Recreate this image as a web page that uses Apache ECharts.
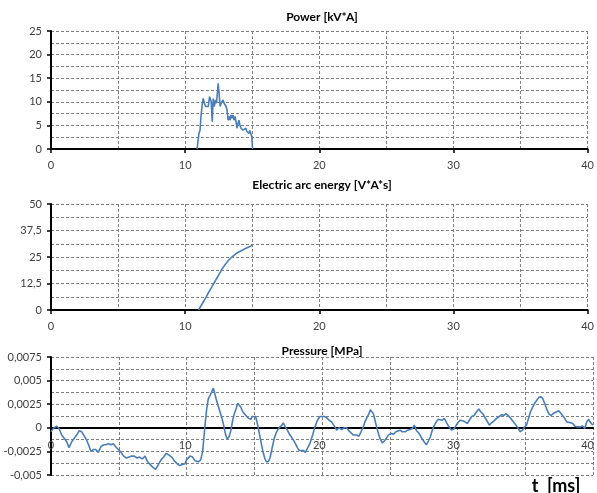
<!DOCTYPE html>
<html>
<head>
<meta charset="utf-8">
<script src="https://cdn.jsdelivr.net/npm/echarts@6/dist/echarts.min.js"></script>
<style>html,body{margin:0;padding:0;background:#fff}#c{width:597px;height:493px}</style>
</head>
<body>
<div id="c"></div>
<script>
// ---- data (t in ms) ----
const panelTitles = ['Power [kV*A]', 'Electric arc energy [V*A*s]', 'Pressure [MPa]'];
const xTitle = 't  [ms]';

const powerT = [10.89,10.94,11.03,11.11,11.18,11.28,11.35,11.43,11.53,11.62,11.72,11.82,11.87,11.94,12.02,12.09,12.17,12.26,12.34,12.41,12.46,12.53,12.61,12.68,12.76,12.83,12.90,12.98,13.05,13.12,13.20,13.27,13.35,13.42,13.49,13.57,13.64,13.72,13.79,13.86,13.94,14.01,14.08,14.16,14.23,14.31,14.38,14.45,14.53,14.60,14.67,14.75,14.82,14.90,14.97,15.02];
const powerV = [0,1.2,3.3,4,6.9,9.7,10.7,9.7,9,9.4,9,11.1,11.4,10,5.8,10.7,9,10.4,9.7,12.1,13.9,11.8,9,9.7,9.4,10.4,9.7,10,9,8.3,6.1,6.9,6.1,7.2,6.5,7.2,6.1,6.9,5.8,4.4,5.4,6.1,5.1,4.4,4.7,4,4.4,3.7,4.4,3.7,4,3.3,3.9,3.5,2.6,0];

const energyT = [11.0,11.25,11.5,11.75,12.0,12.25,12.5,12.75,13.0,13.25,13.5,13.75,14.0,14.25,14.5,14.75,15.0];
const energyV = [0,2.7,5.4,8.3,11,13.8,16.6,19.3,21.6,23.6,25.1,26.4,27.4,28.2,29.0,29.7,30.5];

const pressT = [0.00,0.17,0.42,0.59,0.79,0.98,1.16,1.33,1.53,1.72,1.89,2.09,2.26,2.46,2.63,2.80,2.95,3.12,3.30,3.49,3.69,3.86,4.03,4.23,4.43,4.60,4.77,4.97,5.17,5.36,5.56,5.76,5.95,6.15,6.35,6.54,6.74,6.94,7.13,7.33,7.53,7.72,7.92,8.12,8.31,8.51,8.71,8.91,9.10,9.30,9.50,9.69,9.89,
10.00,10.26,10.45,10.63,10.87,11.05,11.19,11.29,11.39,11.49,11.61,11.73,11.86,11.98,12.08,12.18,12.32,12.47,12.62,12.77,12.89,13.01,13.16,13.28,13.41,13.53,13.65,13.78,13.88,14.00,14.15,14.29,14.44,14.59,14.74,14.86,14.98,15.10,15.23,15.35,15.47,15.62,15.77,15.89,16.04,16.16,16.31,16.46,16.60,16.75,16.90,17.05,17.14,17.29,17.44,17.64,17.84,18.03,18.18,18.33,18.47,18.62,18.77,18.91,19.11,19.31,19.48,19.66,19.85,
20.17,20.34,20.52,20.71,20.91,21.08,21.25,21.45,21.65,21.82,21.94,22.14,22.31,22.44,22.58,22.73,22.88,23.05,23.17,23.32,23.47,23.57,23.67,23.79,23.91,24.03,24.16,24.30,24.45,24.60,24.75,24.90,25.09,25.29,25.44,25.58,25.76,25.93,26.13,26.32,26.49,26.67,26.81,26.96,27.16,27.36,27.55,27.70,27.85,28.00,28.14,28.29,28.44,28.59,28.73,28.88,29.03,29.20,29.37,29.57,29.77,
29.99,30.18,30.38,30.55,30.73,30.87,31.05,31.22,31.41,31.57,31.71,31.86,32.00,32.15,32.35,32.52,32.69,32.89,33.09,33.26,33.43,33.58,33.75,33.92,34.12,34.32,34.49,34.61,34.71,34.80,34.95,35.10,35.24,35.39,35.55,35.69,35.84,35.99,36.14,36.29,36.43,36.58,36.73,36.88,37.02,37.17,37.32,37.47,37.61,37.76,37.91,38.06,38.20,38.35,38.50,38.65,38.80,38.94,39.09,39.24,39.39,39.54,39.69,39.78,39.98];
const pressV = [-0.00042,-0.00007,0.00018,-0.00007,-0.00077,-0.0011,-0.00148,-0.0021,-0.00148,-0.0011,-0.00077,-0.0003,-0.00042,-0.00088,-0.0013,-0.0019,-0.0025,-0.0023,-0.0023,-0.0026,-0.002,-0.0018,-0.0018,-0.0017,-0.0018,-0.0017,-0.002,-0.0023,-0.0026,-0.003,-0.0032,-0.0031,-0.003,-0.003,-0.0032,-0.0031,-0.0033,-0.003,-0.0036,-0.0039,-0.0042,-0.0044,-0.0039,-0.0034,-0.0031,-0.0027,-0.0029,-0.0031,-0.0035,-0.0038,-0.004,-0.0039,-0.0038,
-0.0034,-0.003,-0.0031,-0.0035,-0.0036,-0.0034,-0.0025,-0.00095,0.00063,0.002,0.0031,0.0034,0.0036,0.0042,0.0043,0.0031,0.0024,0.0017,0.001,0.0001,-0.00077,-0.0012,-0.0009,-0.00025,0.0008,0.0015,0.002,0.0026,0.0027,0.0022,0.0017,0.0015,0.0012,0.001,0.0009,0.0012,0.0014,0.0012,0.00046,-0.00042,-0.0013,-0.0024,-0.0032,-0.0036,-0.0036,-0.0032,-0.0022,-0.0012,-0.0006,-0.00018,0.0001,0.00028,0.00053,0.0001,-0.00025,-0.00077,-0.0012,-0.00165,-0.0021,-0.0024,-0.0022,-0.0024,-0.0026,-0.0024,-0.00165,-0.00077,0.0001,0.0008,0.0012,
0.0012,0.0011,0.0008,0.00063,0.00018,-0.00025,0,-0.00018,0,0,-0.00025,-0.00053,-0.00077,-0.00095,-0.00077,-0.0009,-0.00042,0.0001,0.00063,0.0011,0.0015,0.0019,0.0019,0.0015,0.0008,0.0001,-0.0006,-0.0012,-0.0016,-0.0014,-0.0011,-0.00077,-0.0006,-0.00067,-0.00042,-0.00053,-0.00025,-0.00042,-0.00042,-0.00025,-0.00018,-0.00007,0.00028,-0.00025,-0.0006,-0.0011,-0.0015,-0.0018,-0.0014,-0.00095,-0.00025,0.00028,0.00063,0.0009,0.0011,0.0008,0.001,0.00053,0.0001,-0.00025,-0.00007,
0.00046,0.0008,0.00074,0.00063,0.00046,0.0008,0.0012,0.0013,0.0017,0.002,0.0017,0.0015,0.0013,0.0008,0.00028,0.00053,0.00074,0.001,0.0012,0.0014,0.0013,0.0015,0.0013,0.001,0.00063,0.00028,-0.00007,-0.00042,-0.0006,-0.00025,0.0001,0.00028,0.001,0.0017,0.0022,0.0026,0.0029,0.0032,0.0033,0.0031,0.0026,0.002,0.0015,0.0013,0.0015,0.0016,0.0017,0.0018,0.0017,0.0013,0.001,0.00063,0.00046,0.00053,0.00046,0.00018,0.0001,0.00028,0.0001,0.00018,-0.00007,0.00063,0.0009,0.00063,0.00028];

// axis ranges
const xRange = {min: 0, max: 40, interval: 10};
const yRanges = [
  {min: 0, max: 25, interval: 5},
  {min: 0, max: 50, interval: 12.5},
  {min: -0.005, max: 0.0075, interval: 0.0025}
];

// ---- chart ----
const FONT = 'Lato, "Open Sans", sans-serif';
const dash = {type: [3, 2], color: '#808080', width: 1};
const grids = [
  {left: 51, right: 4, top: 31, height: 118},
  {left: 51, right: 4, top: 204, height: 106},
  {left: 51, right: 4, top: 357, height: 118}
];
// label-only grid for the pressure panel: its bottom edge sits on the y = 0 line
const pr = yRanges[2];
grids.push({left: 51, right: 4, top: 357, height: 118 * (pr.max - 0) / (pr.max - pr.min)});

const fmt = v => String(+(+v).toFixed(6)).replace('.', ',');
const lbl = {color: '#404040', fontSize: 11, fontFamily: FONT, formatter: fmt};

const xAxes = [0, 1, 2].map(i => ({
  type: 'value', gridIndex: i, min: xRange.min, max: xRange.max, interval: xRange.interval,
  axisLine: {onZero: true, lineStyle: {color: '#000', width: 2}},
  axisTick: {show: i < 2, length: 4, lineStyle: {color: '#000', width: 1.5}},
  axisLabel: Object.assign({show: i < 2, margin: 11}, lbl),
  splitLine: {show: true, lineStyle: dash},
  minorTick: {show: false, splitNumber: 2},
  minorSplitLine: {show: true, lineStyle: dash}
}));
xAxes.push({
  type: 'value', gridIndex: 3, min: xRange.min, max: xRange.max, interval: xRange.interval,
  axisLine: {show: false}, axisTick: {show: false}, splitLine: {show: false},
  axisLabel: Object.assign({margin: 12}, lbl)
});
const yAxes = [0, 1, 2].map(i => ({
  type: 'value', gridIndex: i, min: yRanges[i].min, max: yRanges[i].max, interval: yRanges[i].interval,
  axisLine: {show: true, onZero: false, lineStyle: {color: '#000', width: 2}},
  axisTick: {show: true, length: 4, lineStyle: {color: '#000', width: 1.5}},
  axisLabel: Object.assign({margin: 9}, lbl),
  splitLine: {show: true, lineStyle: dash},
  minorTick: {show: false, splitNumber: 2},
  minorSplitLine: {show: true, lineStyle: dash}
}));
yAxes.push({
  type: 'value', gridIndex: 3, min: 0, max: pr.max,
  axisLine: {show: false}, axisTick: {show: false}, axisLabel: {show: false}, splitLine: {show: false}
});

const zip = (a, b) => a.map((t, k) => [t, b[k]]);
const lineStyle = {color: '#4a7ebb', width: 1.6};
const series = [
  {type: 'line', xAxisIndex: 0, yAxisIndex: 0, data: zip(powerT, powerV), showSymbol: false, lineStyle, z: 5},
  {type: 'line', xAxisIndex: 1, yAxisIndex: 1, data: zip(energyT, energyV), showSymbol: false, lineStyle, z: 5},
  {type: 'line', xAxisIndex: 2, yAxisIndex: 2, data: zip(pressT, pressV), showSymbol: false, lineStyle, z: 5}
];

const titleY = [17, 185, 351];
const graphics = panelTitles.map((t, i) => ({
  type: 'text', x: 322, y: titleY[i],
  style: {text: t, fill: '#000', font: 'bold 12px ' + FONT, textAlign: 'center', textVerticalAlign: 'middle'}
}));
graphics.push({
  type: 'text', x: 556, y: 486,
  style: {text: xTitle, fill: '#000', font: 'bold 18px ' + FONT, textAlign: 'center', textVerticalAlign: 'middle'}
});

const chart = echarts.init(document.getElementById('c'), null, {renderer: 'canvas'});
chart.setOption({
  animation: false,
  backgroundColor: '#fff',
  grid: grids,
  xAxis: xAxes,
  yAxis: yAxes,
  series,
  graphic: graphics
});
</script>
</body>
</html>
